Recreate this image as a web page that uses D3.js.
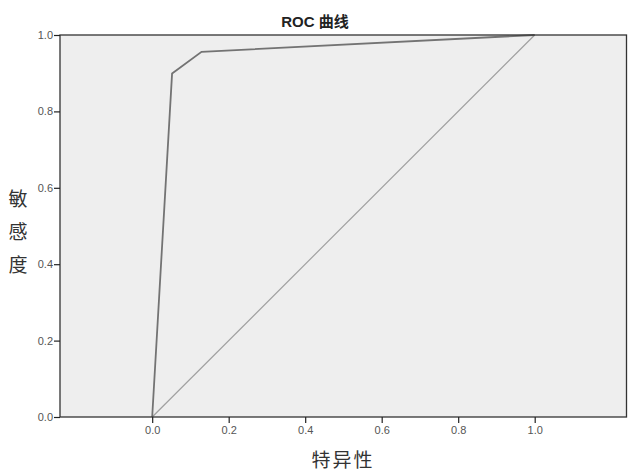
<!DOCTYPE html>
<html><head><meta charset="utf-8">
<script src="https://cdn.jsdelivr.net/npm/d3@7"></script>
<style>body{margin:0;background:#fff}svg{display:block}</style>
</head><body>
<script>
const rocX = [0, 0.052, 0.129, 1.0];
const rocY = [0, 0.899, 0.956, 1.0];
const refX = [0, 1];
const refY = [0, 1];
const tickVals = [0, 0.2, 0.4, 0.6, 0.8, 1.0];
const title = "ROC 曲线";
const xLabel = "特异性";
const yLabel = "敏感度";

const W = 632, H = 471;
const m = {l: 60, r: 5.5, t: 35, b: 54};
const svg = d3.select("body").append("svg").attr("width", W).attr("height", H);
const x = d3.scaleLinear().domain([-0.241, 1.240]).range([m.l, W - m.r]);
const y = d3.scaleLinear().domain([0, 1]).range([H - m.b, m.t]);

svg.append("rect").attr("x", x(-0.241)).attr("y", y(1)).attr("width", x(1.240) - x(-0.241))
  .attr("height", y(0) - y(1)).attr("fill", "#eeeeee");

const line = d3.line().x(d => x(d[0])).y(d => y(d[1]));
svg.append("path").datum(refX.map((v, i) => [v, refY[i]])).attr("d", line)
  .attr("fill", "none").attr("stroke", "#a0a0a0").attr("stroke-width", 1.2);
svg.append("path").datum(rocX.map((v, i) => [v, rocY[i]])).attr("d", line)
  .attr("fill", "none").attr("stroke", "#737373").attr("stroke-width", 1.8);

// border
svg.append("rect").attr("x", x(-0.241)).attr("y", y(1)).attr("width", x(1.240) - x(-0.241))
  .attr("height", y(0) - y(1)).attr("fill", "none").attr("stroke", "#333").attr("stroke-width", 1.3);

const fmt = d3.format(".1f");
const xAxis = svg.append("g").attr("transform", `translate(0,${y(0)})`)
  .call(d3.axisBottom(x).tickValues(tickVals).tickFormat(fmt).tickSize(6).tickSizeOuter(0).tickPadding(3));
xAxis.select(".domain").remove();
const yAxis = svg.append("g").attr("transform", `translate(${x(-0.241)},0)`)
  .call(d3.axisLeft(y).tickValues(tickVals).tickFormat(fmt).tickSize(6).tickSizeOuter(0).tickPadding(1));
yAxis.select(".domain").remove();
svg.selectAll(".tick line").attr("stroke", "#222").attr("stroke-width", 1.2);
svg.selectAll(".tick text").attr("font-family", "Arial, 'Liberation Sans', sans-serif")
  .attr("font-size", 11).attr("fill", "#555");

svg.append("text").attr("x", 315).attr("y", 27).attr("text-anchor", "middle")
  .attr("font-family", "Arial, 'Liberation Sans', 'Noto Sans CJK SC', sans-serif")
  .attr("font-weight", "bold").attr("font-size", 15).attr("fill", "#222").text(title);

svg.append("text").attr("x", 343).attr("y", 467).attr("text-anchor", "middle")
  .attr("font-family", "'Noto Sans CJK SC', sans-serif").attr("font-size", 19)
  .attr("letter-spacing", 2).attr("fill", "#333").text(xLabel);

Array.from(yLabel).forEach((c, i) => {
  svg.append("text").attr("x", 18).attr("y", 197 + i * 33).attr("text-anchor", "middle")
    .attr("dominant-baseline", "central")
    .attr("font-family", "'Noto Sans CJK SC', sans-serif").attr("font-size", 19)
    .attr("fill", "#333").text(c);
});
</script>
</body></html>
